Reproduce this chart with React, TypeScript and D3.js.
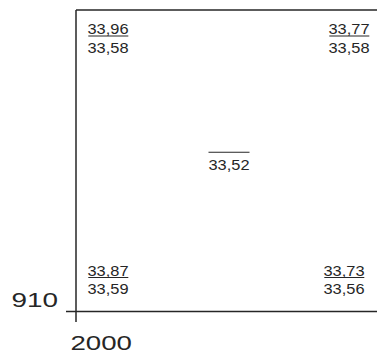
import React from "react";
import * as d3 from "d3";

// Data
const columns = ["W", "E"];
const rows = ["S", "N"];
const cornerCol = ["W", "E", "W", "E"];
const cornerRow = ["N", "N", "S", "S"];
const upperValues = ["33,96", "33,77", "33,87", "33,73"];
const lowerValues = ["33,58", "33,58", "33,59", "33,56"];
const centerValue = "33,52";
const xTickLabel = "2000";
const yTickLabel = "910";

const W = 377;
const H = 357;
const FONT = "'Liberation Sans', Arial, Helvetica, sans-serif";
const INK = "#262626";

export default function App() {
  const x = d3.scalePoint<string>().domain(columns).range([76, 382]);
  const y = d3.scalePoint<string>().domain(rows).range([311.5, 10]);
  const xMid = (x("W")! + x("E")!) / 2;
  const yMid = (y("S")! + y("N")!) / 2;
  const fs = 15;
  const valLen = 41;

  return (
    <div style={{ position: "absolute", left: 0, top: 0, width: W, height: H, background: "#fff" }}>
      <svg width={W} height={H} style={{ display: "block" }} fontFamily={FONT}>
        <rect x={0} y={0} width={W} height={H} fill="#fff" />
        {/* frame */}
        <line x1={x("W")} x2={x("W")} y1={y("N")} y2={322} stroke={INK} strokeWidth={1.5} />
        <line x1={66} x2={W + 10} y1={y("S")} y2={y("S")} stroke={INK} strokeWidth={1.5} />
        <line x1={x("W")} x2={W + 10} y1={y("N")} y2={y("N")} stroke={INK} strokeWidth={1.5} />
        <line x1={x("E")} x2={x("E")} y1={y("N")} y2={y("S")} stroke={INK} strokeWidth={1.5} />
        {/* tick labels */}
        <text x={11.5} y={306.7} fontSize={21} fill={INK} textLength={46.5} lengthAdjust="spacingAndGlyphs">{yTickLabel}</text>
        <text x={70.5} y={350} fontSize={21} fill={INK} textLength={61.5} lengthAdjust="spacingAndGlyphs">{xTickLabel}</text>
        {upperValues.map((v, i) => {
          const isW = cornerCol[i] === "W";
          const isN = cornerRow[i] === "N";
          const cx = x(cornerCol[i])!;
          const cy = y(cornerRow[i])!;
          const anchorX = isW ? cx + 11.5 : cx - (isN ? 12.5 : 17.5);
          const b1 = isN ? cy + 24 : cy - 36;
          const b2 = isN ? cy + 42.7 : cy - 17.5;
          const ux1 = isW ? anchorX + 0.8 : anchorX - valLen + 0.8;
          return (
            <g key={i} fill={INK} fontSize={fs}>
              <text x={anchorX} y={b1} textAnchor={isW ? "start" : "end"} textLength={valLen} lengthAdjust="spacingAndGlyphs">{v}</text>
              <line x1={ux1} x2={ux1 + valLen - 1} y1={b1 + 2} y2={b1 + 2} stroke={INK} strokeWidth={1.2} />
              <text x={anchorX} y={b2} textAnchor={isW ? "start" : "end"} textLength={valLen} lengthAdjust="spacingAndGlyphs">{lowerValues[i]}</text>
            </g>
          );
        })}
        <g fill={INK} fontSize={fs}>
          <line
            x1={xMid - valLen / 2}
            x2={xMid + valLen / 2}
            y1={yMid - 8.5}
            y2={yMid - 8.5}
            stroke={INK}
            strokeWidth={1.2}
          />
          <text x={xMid} y={yMid + 9} textAnchor="middle" textLength={valLen} lengthAdjust="spacingAndGlyphs">{centerValue}</text>
        </g>
      </svg>
    </div>
  );
}
